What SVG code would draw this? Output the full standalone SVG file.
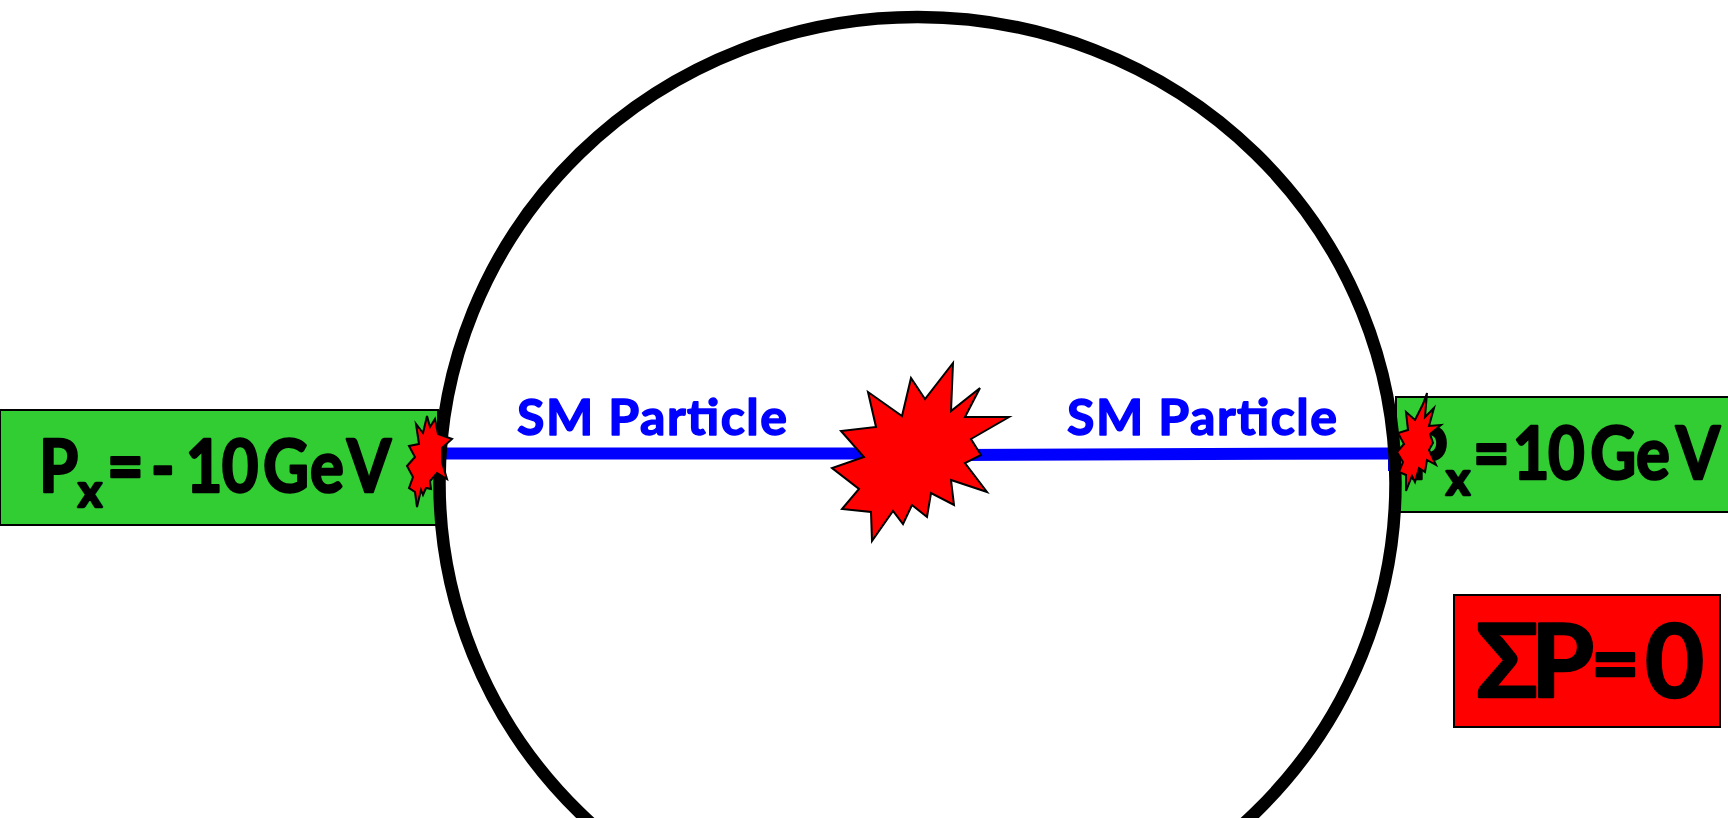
<svg xmlns="http://www.w3.org/2000/svg" width="1728" height="818" viewBox="0 0 1728 818">
<style>
text{font-family:Lato,"Liberation Sans",Arial,sans-serif;font-weight:700;fill:#000;stroke:#000;stroke-width:2.5;stroke-linejoin:round}
.lbl{font-size:50px;fill:#00f;stroke:#00f;stroke-width:1.5}
.big{font-size:72px}
.sub{font-size:46px}
.star{fill:#f00;stroke:#000;stroke-width:2;stroke-linejoin:miter}
.box{stroke:#000;stroke-width:2}
.wire{stroke:#00f;stroke-width:12;fill:none}
</style>
<rect width="1728" height="818" fill="#fff"/>
<g id="box-left"><rect class="box" x="0" y="410" width="438" height="115" fill="#32cd32"/>
<text class="big" transform="scale(.88,1)" y="492" x="44.3">P</text><text class="sub" x="78" y="507">x</text><text class="big" transform="scale(.88,1)" y="492" x="121.6 171.6 211 252 299 352.3 394.3">=-10GeV</text></g>
<g id="box-right"><rect class="box" x="1396" y="397" width="334" height="115" fill="#32cd32"/>
<text class="big" transform="scale(.88,1)" y="479" x="1600">P</text><text class="sub" x="1446" y="495">x</text><text class="big" transform="scale(.88,1)" y="479" x="1674 1719 1759 1807 1859.1 1904.5">=10GeV</text></g>
<g id="connectors">
<path class="wire" d="M445 453.4H865"/>
<path class="wire" d="M960 455L1392 453.4"/>
<path d="M444 436V470M1389 450V471" stroke="#00f" stroke-width="2" fill="none"/>
</g>
<g id="ring"><ellipse cx="917.5" cy="483" rx="478" ry="466" fill="none" stroke="#000" stroke-width="12.5"/></g>
<g id="star-left"><polygon class="star" points="427,416 430,427 435,419 438,434 452,439 442,448 442,462 447,479 437,473 430,481 431,489 426,488 423,495 421,490 417,507 415,492 409,488 413,477 407,466 415,457 409,446 419,444 416,424 423,433"/></g>
<g id="star-right"><polygon class="star" points="1427,393 1425,417 1434,408 1429,426 1441,425 1430,434 1433,443 1429,450 1436,465 1427,460 1425,472 1419,468 1415,482 1412,476 1406,491 1406,475 1399,472 1403,462 1397,452 1404,444 1398,433 1408,430 1406,412 1415,420 1423,404"/></g>
<g id="star-center"><polygon class="star" points="953,363 951,411 980,388 965,417 1009,417 971,439 981,455 965,463 987,492 951,480 954,505 931,493 927,517 912,505 903,524 893,511 872,541 871,512 842,509 859,489 832,468 864,457 841,431 876,427 868,392 902,416 911,378 925,399"/></g>
<g id="label-left"><text class="lbl" x="517" y="435" textLength="270" lengthAdjust="spacing">SM Particle</text></g>
<g id="label-right"><text class="lbl" x="1067" y="435" textLength="270" lengthAdjust="spacing">SM Particle</text></g>
<g id="box-sum"><rect class="box" x="1454" y="595" width="266" height="132" fill="#f00"/>
<text y="697" style="font-size:102px"><tspan x="1476 1531">ΣP</tspan><tspan x="1591" y="693" style="font-size:84px">=</tspan><tspan x="1645" y="697">0</tspan></text></g>
</svg>
